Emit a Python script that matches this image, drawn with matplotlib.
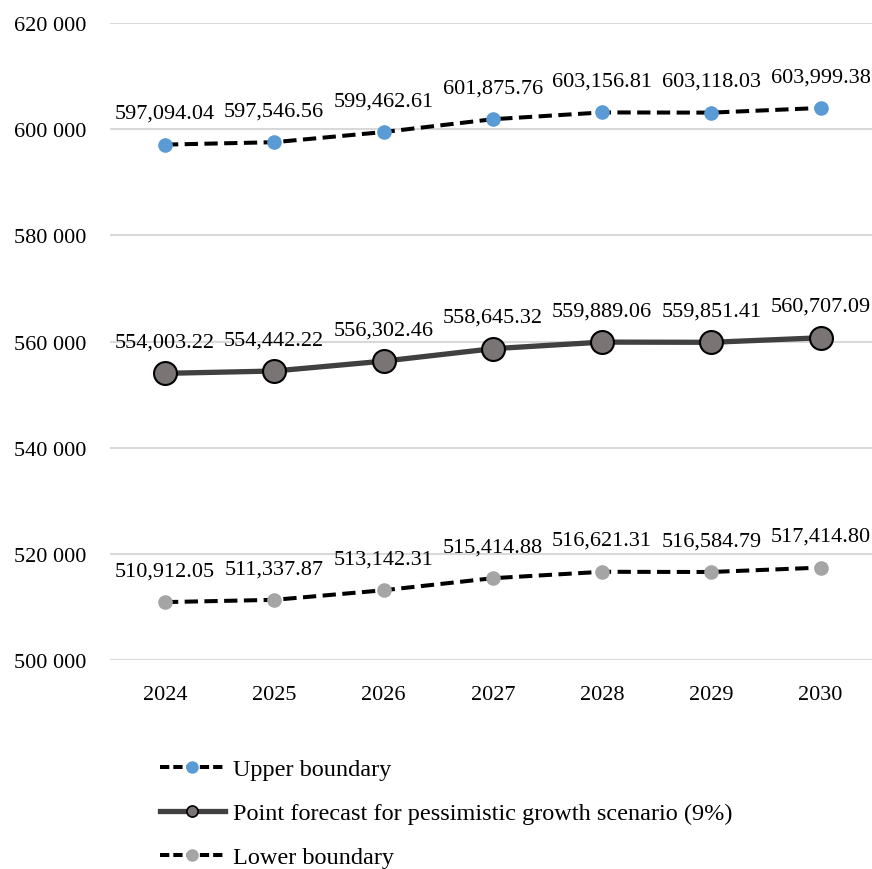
import matplotlib.pyplot as plt
from matplotlib.lines import Line2D
from matplotlib.ticker import FuncFormatter

plt.rcParams['font.family'] = ['Liberation Serif', 'DejaVu Serif']

# Прогноз на 2024-2030 гг.
years = ['2024', '2025', '2026', '2027', '2028', '2029', '2030']
upper = [597094.04, 597546.56, 599462.61, 601875.76, 603156.81, 603118.03, 603999.38]
point = [554003.22, 554442.22, 556302.46, 558645.32, 559889.06, 559851.41, 560707.09]
lower = [510912.05, 511337.87, 513142.31, 515414.88, 516621.31, 516584.79, 517414.80]

fs = 16
x = list(range(len(years)))

fig = plt.figure(figsize=(8.72, 8.70), dpi=100)
ax = fig.add_axes([0.1265, 0.2402, 0.8773, 0.7322])

ax.plot(x, upper, color='black', lw=2.9, dashes=(3.3, 1.6), marker='o',
        markersize=9.5, markerfacecolor='#5B9BD5', markeredgecolor='#5B9BD5', zorder=3)
ax.plot(x, point, color='#404040', lw=3.8, marker='o', markersize=16.5,
        markerfacecolor='#7A7574', markeredgecolor='black', markeredgewidth=1.5, zorder=3)
ax.plot(x, lower, color='black', lw=2.9, dashes=(3.3, 1.6), marker='o',
        markersize=9.5, markerfacecolor='#A5A5A5', markeredgecolor='#A5A5A5', zorder=3)

# подписи значений над точками
for series in (upper, point, lower):
    for xi, v in zip(x, series):
        ax.annotate(f'{v:,.2f}', (xi, v), xytext=(0, 22.5), textcoords='offset points',
                    ha='center', va='center', fontsize=fs, color='black')

ax.set_xlim(-0.5, 6.5)
ax.set_ylim(500000, 620000)
ax.set_yticks(range(500000, 620001, 20000))
ax.yaxis.set_major_formatter(FuncFormatter(lambda v, p: f'{int(v):,}'.replace(',', ' ')))
ax.set_xticks(x)
ax.set_xticklabels(years)
ax.tick_params(axis='both', length=0, labelsize=fs)
ax.tick_params(axis='y', pad=17)
ax.tick_params(axis='x', pad=18)
ax.grid(axis='y', color='#D9D9D9', lw=1.5)
ax.set_axisbelow(True)
for s in ax.spines.values():
    s.set_visible(False)

handles = [
    Line2D([], [], color='black', lw=2.9, dashes=(2.3, 1.0), marker='o', markersize=8,
           markerfacecolor='#5B9BD5', markeredgecolor='#5B9BD5'),
    Line2D([], [], color='#404040', lw=3.8, marker='o', markersize=8,
           markerfacecolor='#7A7574', markeredgecolor='black', markeredgewidth=1.2),
    Line2D([], [], color='black', lw=2.9, dashes=(2.3, 1.0), marker='o', markersize=8,
           markerfacecolor='#A5A5A5', markeredgecolor='#A5A5A5'),
]
labels = ['Upper boundary',
          'Point forecast for pessimistic growth scenario (9%)',
          'Lower boundary']
fig.legend(handles, labels, loc='upper left', bbox_to_anchor=(160 / 872, 1 - 759 / 870),
           frameon=False, fontsize=17.5, borderpad=0, handlelength=2.67,
           handletextpad=0.33, labelspacing=0.91, borderaxespad=0)

fig.savefig('out.png', dpi=100)
